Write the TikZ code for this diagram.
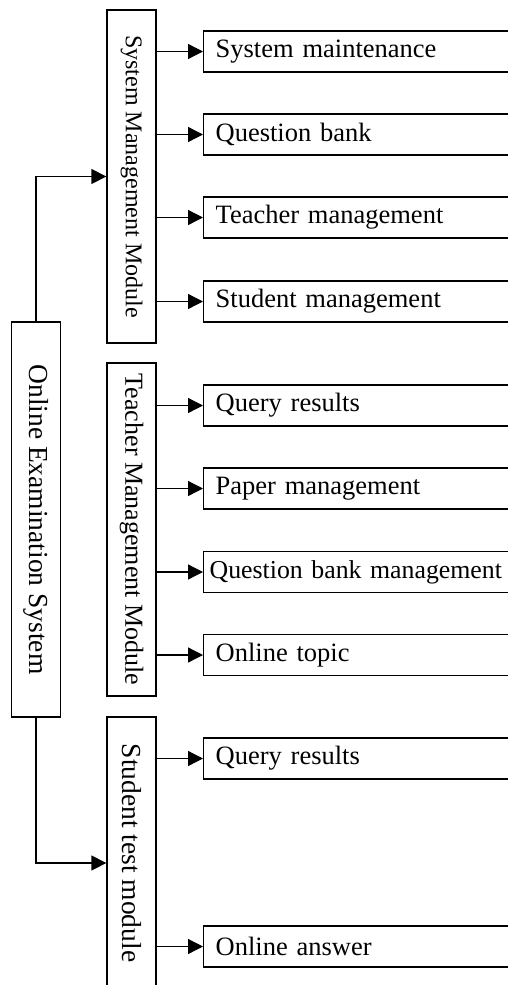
\documentclass[tikz,border=0pt]{standalone}
\usepackage{fontspec}
\setmainfont{Liberation Serif}
\usetikzlibrary{arrows.meta}
\begin{document}
\begin{tikzpicture}[x=1pt,y=-1pt,
  box/.style={draw,line width=1.3pt,inner sep=0pt,rectangle},
  vbox/.style={box,minimum width=49pt,font=\fontsize{26.5}{30}\selectfont},
  child/.style={box,minimum width=327pt,minimum height=41pt,inner xsep=12pt,
     text width=303pt,align=left,font=\fontsize{26.5}{30}\selectfont},
  arr/.style={line width=1.3pt,-{Triangle[length=15pt,width=15pt]}}]
\clip (0,0) rectangle (508,985);
\fill[white] (0,0) rectangle (508,985);
% main
\node[vbox,minimum height=395pt] (oes) at (36,519.5) {};
\node[rotate=-90,font=\fontsize{27.5}{30}\selectfont] (oest) at (oes.center) {Online Examination System};
% modules
\node[vbox,minimum height=333pt] (smm) at (131.5,176.5) {};
\node[rotate=-90,font=\fontsize{24}{28}\selectfont] (smmt) at (smm.center) {System Management Module};
\node[vbox,minimum height=333pt] (tmm) at (131.5,529.5) {};
\node[rotate=-90,font=\fontsize{26}{30}\selectfont] (tmmt) at (tmm.center) {Teacher Management Module};
\node[vbox,minimum height=292pt] (stm) at (131.5,863) {};
\node[rotate=-90,font=\fontsize{27.5}{30}\selectfont] (stmt) at (131.5,853) {Student test module};
% children
\node[child,anchor=west] (a1) at (203,51.5) {System maintenance};
\node[child,anchor=west] (a2) at (203,134.5) {Question bank};
\node[child,anchor=west] (a3) at (203,217.5) {Teacher management};
\node[child,anchor=west] (a4) at (203,301.5) {Student management};
\node[child,anchor=west] (b1) at (203,405.5) {Query results};
\node[child,anchor=west] (b2) at (203,488.5) {Paper management};
\node[child,anchor=west,inner xsep=6pt,text width=315pt,font=\fontsize{25.8}{30}\selectfont] (b3) at (203,572) {Question bank management};
\node[child,anchor=west] (b4) at (203,655) {Online topic};
\node[child,anchor=west] (c1) at (203,758.5) {Query results};
\node[child,anchor=west] (c2) at (203,946.5) {Online answer};
% connectors
\draw[arr] (oes.north) |- (smm.west);
\draw[arr] (oes.south) |- (stm.west);
\foreach \m/\c in {smm/a1,smm/a2,smm/a3,smm/a4,tmm/b1,tmm/b2,tmm/b3,tmm/b4,stm/c1,stm/c2}
  \draw[arr] (\m.east |- \c.west) -- (\c.west);
\end{tikzpicture}
\end{document}
